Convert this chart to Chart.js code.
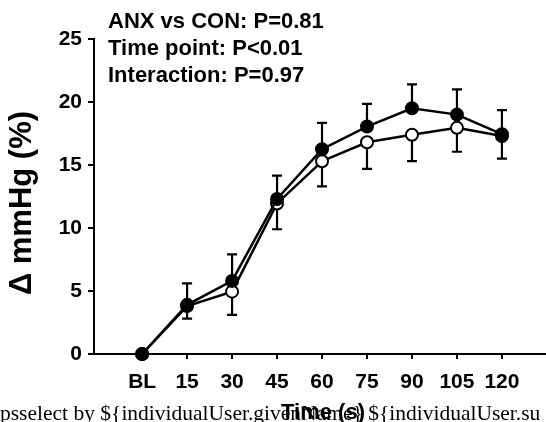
<!DOCTYPE html>
<html>
<head>
<meta charset="utf-8">
<script src="https://cdn.jsdelivr.net/npm/chart.js@4.4.1/dist/chart.umd.min.js"></script>
<style>
  body { margin: 0; background: #fff; }
  #wrap { width: 546px; height: 422px; position: relative; }
</style>
</head>
<body>
<div id="wrap"><canvas id="myChart" width="546" height="422"></canvas></div>
<script>
// tiempos (eje x)
var etiquetas = ['BL', '15', '30', '45', '60', '75', '90', '105', '120'];
// ANX (circulos rellenos), error hacia arriba
var anx = [0, 3.9, 5.8, 12.3, 16.25, 18.05, 19.5, 19.0, 17.45];
var anxError = [0, 1.7, 2.1, 1.85, 2.1, 1.8, 1.9, 2.0, 1.9];
// CON (circulos abiertos), error hacia abajo
var con = [0, 3.8, 4.95, 11.95, 15.3, 16.8, 17.4, 17.95, 17.3];
var conError = [0, 1.0, 1.85, 2.05, 2.0, 2.1, 2.1, 1.9, 1.8];
var yTicks = [0, 5, 10, 15, 20, 25];
var textos = ['ANX vs CON: P=0.81', 'Time point: P<0.01', 'Interaction: P=0.97'];
var tituloX = 'Time (s)';
var tituloY = 'Δ mmHg (%)';

function puntos(valores) {
  var p = [];
  for (var i = 0; i < valores.length; i++) {
    p.push({ x: i, y: valores[i] });
  }
  return p;
}

var arial = '"Liberation Sans", Arial, sans-serif';

// barras de error y textos
var barrasError = {
  id: 'barrasError',
  beforeDatasetsDraw: function (chart) {
    var ctx = chart.ctx;
    var sx = chart.scales.x;
    var sy = chart.scales.y;
    var series = [[anx, anxError, 1], [con, conError, -1]];
    ctx.save();
    ctx.strokeStyle = '#000';
    ctx.lineWidth = 2.2;
    for (var s = 0; s < series.length; s++) {
      var v = series[s][0], e = series[s][1], dir = series[s][2];
      for (var i = 0; i < v.length; i++) {
        if (!e[i]) continue;
        var px = sx.getPixelForValue(i);
        var y0 = sy.getPixelForValue(v[i]);
        var y1 = sy.getPixelForValue(v[i] + dir * e[i]);
        ctx.beginPath();
        ctx.moveTo(px, y0);
        ctx.lineTo(px, y1);
        ctx.moveTo(px - 5, y1);
        ctx.lineTo(px + 5, y1);
        ctx.stroke();
      }
    }
    ctx.restore();
  },
  afterDraw: function (chart) {
    var ctx = chart.ctx;
    ctx.save();
    ctx.fillStyle = '#000';
    ctx.textBaseline = 'alphabetic';
    ctx.textAlign = 'left';
    ctx.font = 'bold 22px ' + arial;
    for (var i = 0; i < textos.length; i++) {
      ctx.fillText(textos[i], 108, 28 + i * 27);
    }
    // titulo eje x
    ctx.textAlign = 'center';
    ctx.fillText(tituloX, 323, 419);
    // titulo eje y
    ctx.save();
    ctx.translate(22, 203);
    ctx.rotate(-Math.PI / 2);
    ctx.textBaseline = 'middle';
    ctx.font = 'bold 31px ' + arial;
    ctx.fillText(tituloY, 0, 0);
    ctx.restore();
    // texto superpuesto
    ctx.textAlign = 'left';
    ctx.font = '21.5px "Liberation Serif", "Times New Roman", serif';
    ctx.fillText('psselect by ${individualUser.givenName} ${individualUser.su', 0, 420);
    ctx.restore();
  }
};

var fuenteTick = { family: arial, size: 21, weight: 'bold' };

var grafico = new Chart(document.getElementById('myChart'), {
  type: 'line',
  data: {
    datasets: [{
      label: 'ANX',
      data: puntos(anx),
      borderColor: '#000',
      backgroundColor: '#000',
      borderWidth: 2.5,
      pointRadius: 6,
      pointBorderWidth: 2,
      pointBackgroundColor: '#000',
      pointBorderColor: '#000',
      clip: false
    }, {
      label: 'CON',
      data: puntos(con),
      borderColor: '#000',
      backgroundColor: '#fff',
      borderWidth: 2.5,
      pointRadius: 6,
      pointBorderWidth: 2,
      pointBackgroundColor: '#fff',
      pointBorderColor: '#000',
      clip: false
    }]
  },
  options: {
    responsive: false,
    animation: false,
    layout: { autoPadding: false, padding: { top: 39, right: 0, left: 0, bottom: 0 } },
    plugins: { legend: { display: false }, tooltip: { enabled: false } },
    scales: {
      x: {
        type: 'linear',
        min: -1.07,
        max: 8.98,
        afterBuildTicks: function (scale) {
          scale.ticks = etiquetas.map(function (l, i) { return { value: i }; });
        },
        afterFit: function (scale) {
          scale.height = 68;
          scale.paddingLeft = 0;
          scale.paddingRight = 0;
        },
        ticks: {
          color: '#000',
          font: fuenteTick,
          padding: 11,
          maxRotation: 0,
          autoSkip: false,
          callback: function (v) { return etiquetas[v]; }
        },
        grid: { drawOnChartArea: false, drawTicks: true, tickLength: 5, color: '#000', lineWidth: 2 },
        border: { color: '#000', width: 2 }
      },
      y: {
        min: 0,
        max: 25,
        afterBuildTicks: function (scale) {
          scale.ticks = yTicks.map(function (v) { return { value: v }; });
        },
        afterFit: function (scale) {
          scale.width = 94;
          scale.paddingTop = 0;
          scale.paddingBottom = 0;
        },
        ticks: { color: '#000', font: fuenteTick, padding: 6 },
        grid: { drawOnChartArea: false, drawTicks: true, tickLength: 6, color: '#000', lineWidth: 2 },
        border: { color: '#000', width: 2 }
      }
    }
  },
  plugins: [barrasError]
});
</script>
</body>
</html>
